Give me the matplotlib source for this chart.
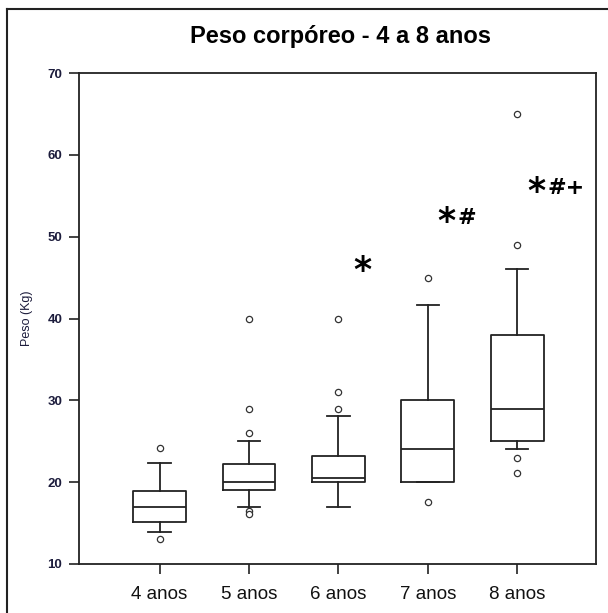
import matplotlib
matplotlib.use('Agg')
import matplotlib.pyplot as plt
from matplotlib.lines import Line2D

plt.rcParams['font.family'] = ['Liberation Sans', 'DejaVu Sans']

# groups and box statistics (Kg)
grupos = ['4 anos', '5 anos', '6 anos', '7 anos', '8 anos']
q1 = [15.1, 19.0, 20.0, 20.0, 25.0]
mediana = [17.0, 20.0, 20.5, 24.0, 29.0]
q3 = [18.9, 22.2, 23.2, 30.0, 38.0]
whis_low = [13.9, 17.0, 17.0, 20.0, 24.0]
whis_high = [22.4, 25.0, 28.1, 41.7, 46.0]
outliers = [
    [24.2, 13.1],
    [40.0, 29.0, 26.0, 16.5, 16.1],
    [40.0, 31.0, 29.0],
    [45.0, 17.6],
    [65.0, 49.0, 23.0, 21.1],
]

# significance marks: asterisk + extra symbols
marcas_extra = ['', '#', '#+']
marcas_x = [3.17, 4.11, 5.12]
marcas_y = [46.5, 52.5, 56.2]

stats = []
for i in range(len(grupos)):
    stats.append({
        'label': grupos[i],
        'q1': q1[i], 'med': mediana[i], 'q3': q3[i],
        'whislo': whis_low[i], 'whishi': whis_high[i],
        'fliers': outliers[i],
    })

fig = plt.figure(figsize=(6.08, 6.13), dpi=100)
ax = fig.add_axes([79/608, 1 - 564/613, (596 - 79)/608, (564 - 73)/613])

lw = 1.3
ax.bxp(stats, positions=range(1, 6), widths=0.59, capwidths=0.25,
       boxprops=dict(color='#222222', linewidth=lw),
       medianprops=dict(color='#222222', linewidth=lw),
       whiskerprops=dict(color='#222222', linewidth=lw),
       capprops=dict(color='#222222', linewidth=lw),
       flierprops=dict(marker='o', markersize=4.5, markerfacecolor='white',
                       markeredgecolor='#333333', markeredgewidth=0.9))

for extra, x, y in zip(marcas_extra, marcas_x, marcas_y):
    # big asterisk, moved down so it sits centred on the line
    ax.annotate('*', xy=(x, y), xytext=(-0.5, -11.5), textcoords='offset points',
                ha='left', va='baseline', fontsize=25, fontweight='bold',
                family='DejaVu Sans')
    if extra:
        ax.annotate(extra, xy=(x, y), xytext=(14, -5.9),
                    textcoords='offset points', ha='left',
                    va='baseline', fontsize=16, fontweight='bold',
                    family='DejaVu Sans')

ax.set_xlim(0.1, 5.88)
ax.set_ylim(10, 70)
ax.set_yticks([10, 20, 30, 40, 50, 60, 70])
ax.set_xticks(range(1, 6))
ax.set_xticklabels(grupos, fontsize=13.5, color='#111111')
ax.tick_params(axis='x', length=7, width=1.2, pad=9, color='#222222')
ax.tick_params(axis='y', length=7, width=1.2, pad=5, labelsize=9.5,
               labelcolor='#1c1c3c', color='#222222')
for lab in ax.get_yticklabels():
    lab.set_fontweight('bold')
for sp in ax.spines.values():
    sp.set_linewidth(1.3)
    sp.set_color('#222222')

fig.text(27/608, 1 - 318/613, 'Peso (Kg)', rotation=90, ha='center',
         va='center', fontsize=9, color='#1c1c3c')
fig.text(340/608, 1 - 37/613, 'Peso corpóreo - 4 a 8 anos', ha='center',
         va='center', fontsize=17, fontweight='bold')

# outer frame (left and top edges)
fig.add_artist(Line2D([7/608, 7/608], [0, 1 - 9/613], color='#222222',
                      linewidth=1.5, transform=fig.transFigure))
fig.add_artist(Line2D([7/608, 1], [1 - 9/613, 1 - 9/613], color='#222222',
                      linewidth=1.5, transform=fig.transFigure))

fig.savefig('out.png', dpi=100)
